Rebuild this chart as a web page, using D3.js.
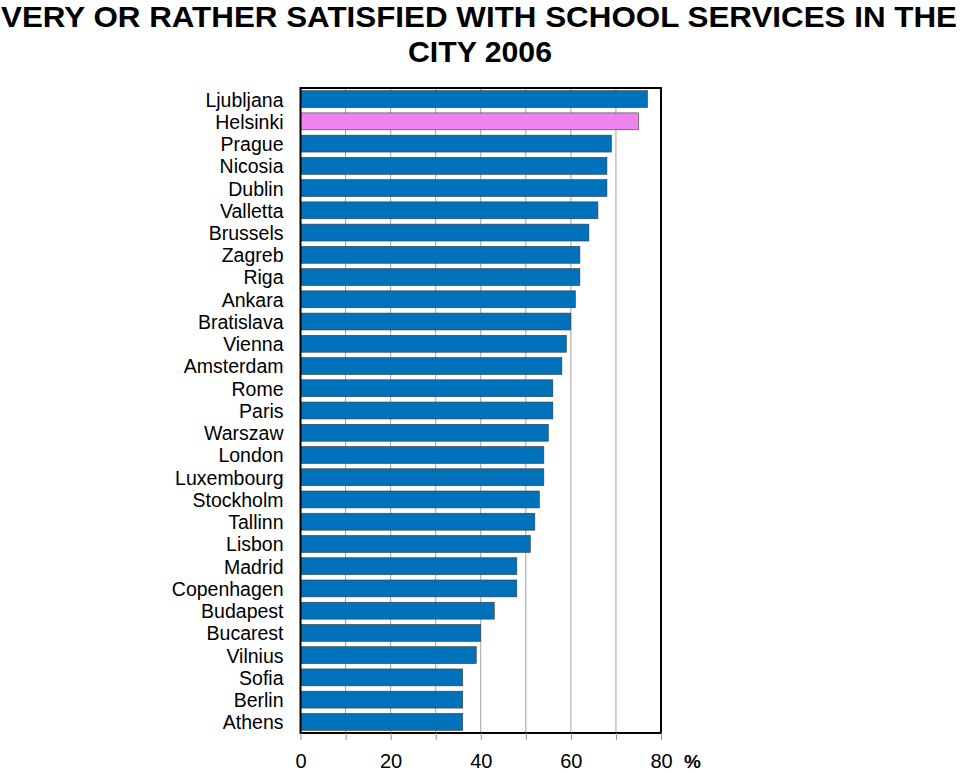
<!DOCTYPE html>
<html><head><meta charset="utf-8">
<script src="https://cdn.jsdelivr.net/npm/d3@7"></script>
<style>body{margin:0;background:#fff}svg{display:block}</style>
</head><body>
<script>
const cities = ["Ljubljana","Helsinki","Prague","Nicosia","Dublin","Valletta","Brussels","Zagreb","Riga","Ankara","Bratislava","Vienna","Amsterdam","Rome","Paris","Warszaw","London","Luxembourg","Stockholm","Tallinn","Lisbon","Madrid","Copenhagen","Budapest","Bucarest","Vilnius","Sofia","Berlin","Athens"];
const values = [77,75,69,68,68,66,64,62,62,61,60,59,58,56,56,55,54,54,53,52,51,48,48,43,40,39,36,36,36];
const highlight = ["Helsinki"];
const tickLabels = [0,20,40,60,80];
const gridValues = [10,20,30,40,50,60,70];

const W=960,H=773;
const svg=d3.select("body").append("svg").attr("width",W).attr("height",H);
const L=300.5,R=661,T=88,B=733;
const x=d3.scaleLinear().domain([0,80]).range([L,R]);
const y=d3.scaleBand().domain(cities).range([T,B]).paddingInner(0.24).paddingOuter(0.12);

svg.append("text").attr("x",1).attr("y",27).attr("textLength",956).attr("lengthAdjust","spacingAndGlyphs")
 .style("font-family","'Liberation Sans Narrow','Liberation Sans',Arial,sans-serif").style("font-weight","bold").style("font-size","30px")
 .text("VERY OR RATHER  SATISFIED WITH SCHOOL SERVICES IN THE");
svg.append("text").attr("x",480).attr("y",62).attr("textLength",144).attr("lengthAdjust","spacingAndGlyphs").attr("text-anchor","middle")
 .style("font-family","'Liberation Sans Narrow','Liberation Sans',Arial,sans-serif").style("font-weight","bold").style("font-size","30px")
 .text("CITY 2006");

svg.append("g").selectAll("line").data(gridValues).join("line")
 .attr("x1",d=>x(d)).attr("x2",d=>x(d)).attr("y1",T).attr("y2",B)
 .attr("stroke","#a0a0a0").attr("stroke-width",1);

svg.append("g").selectAll("rect").data(cities).join("rect")
 .attr("x",x(0)).attr("y",d=>y(d)).attr("height",y.bandwidth())
 .attr("width",(d,i)=>x(values[i])-x(0))
 .attr("fill",d=>highlight.includes(d)?"#EE82EE":"#0072BC")
 .attr("stroke","#3a3a3a").attr("stroke-width",0.6);

svg.append("rect").attr("x",L).attr("y",T).attr("width",R-L).attr("height",B-T)
 .attr("fill","none").attr("stroke","#000").attr("stroke-width",2);

const xAxis=d3.axisBottom(x).tickValues(d3.range(0,81,10)).tickSize(7).tickFormat(d=>tickLabels.includes(d)?d:"");
const ga=svg.append("g").attr("transform",`translate(0,${B})`).call(xAxis);
ga.select(".domain").remove();
ga.selectAll(".tick line").attr("stroke","#909090");
ga.selectAll(".tick text").attr("dy",0).attr("y",35).style("font-family","'Liberation Sans',Arial,sans-serif").style("font-size","20px").attr("fill","#000");
svg.append("text").attr("x",684).attr("y",768).style("font-family","'Liberation Sans',Arial,sans-serif").style("font-weight","bold").style("font-size","19px").text("%");

const gy=svg.append("g").attr("transform",`translate(${L},0)`).call(d3.axisLeft(y).tickSize(0).tickPadding(17));
gy.select(".domain").remove();
gy.selectAll("text").attr("dy","0.38em").style("font-family","'Liberation Sans',Arial,sans-serif").style("font-size","19.5px").attr("fill","#000");
</script>
</body></html>
